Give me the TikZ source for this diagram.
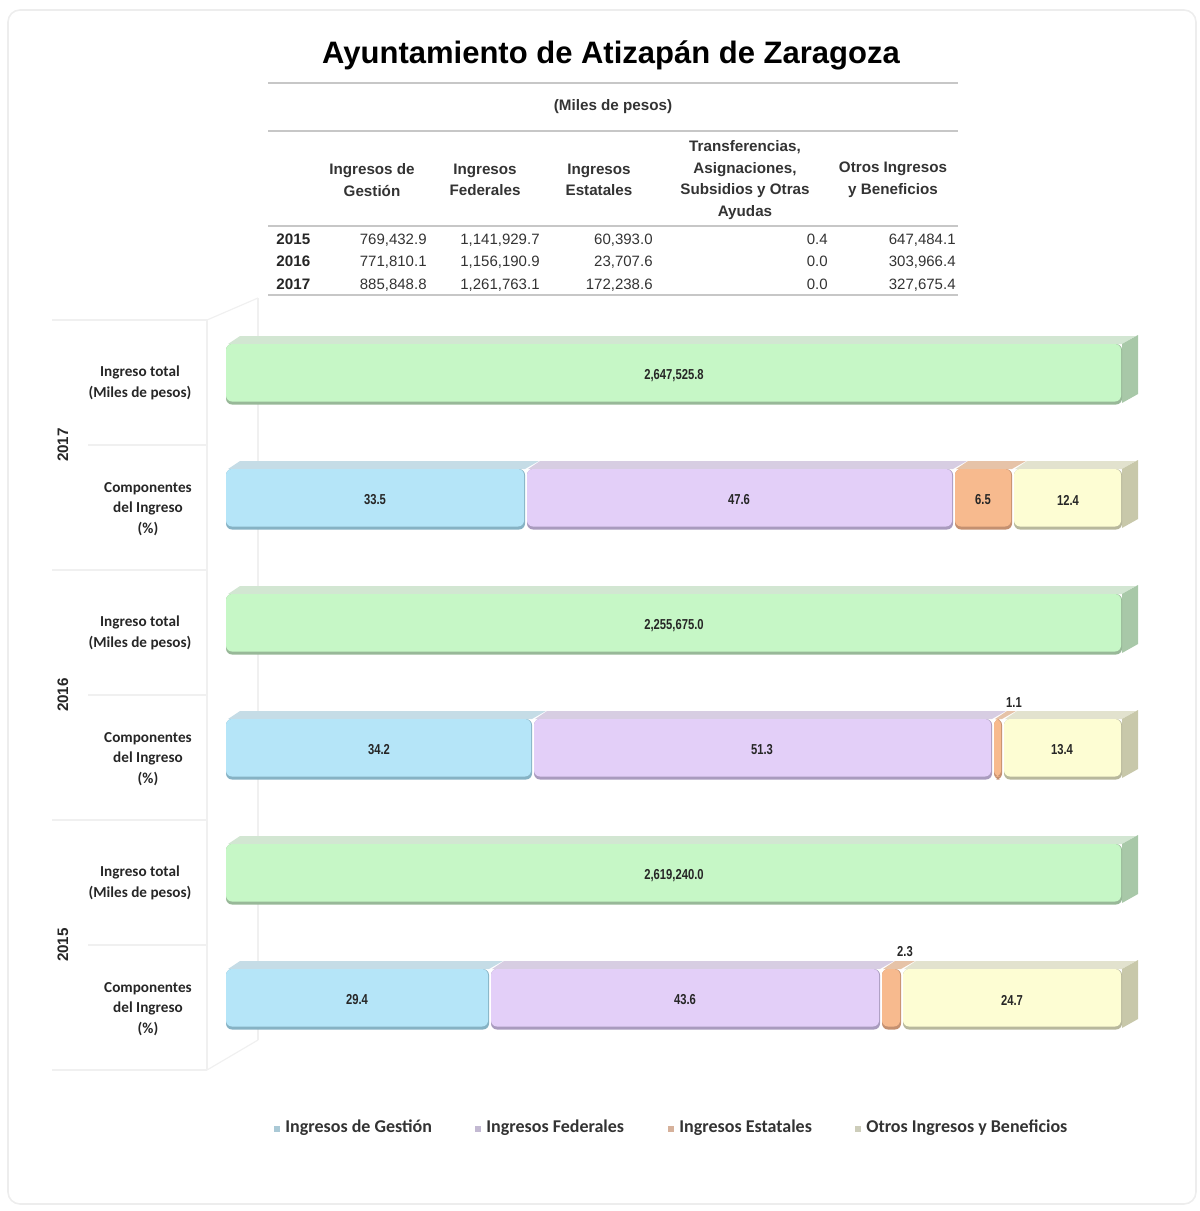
\documentclass[tikz,border=0pt]{standalone}
\usepackage{fontspec}
\setmainfont{Liberation Sans}
\newfontfamily\calf{Carlito}
\newfontfamily\narrowf[FakeStretch=0.78]{Liberation Sans}
\begin{document}
\begin{tikzpicture}[x=0.5pt,y=-0.5pt,
  tabtxt/.style={font=\fontsize{7.5}{10.5}\selectfont, text=black!80, inner sep=0pt},
  hdr/.style={font=\fontsize{7.6}{10.8}\selectfont, text=black!80, inner sep=0pt, align=center},
  yr/.style={font=\fontsize{7.6}{10}\selectfont\bfseries, text=black!85, inner sep=0pt},
  cat/.style={font=\calf\fontsize{7.6}{10.3}\selectfont\bfseries, text=black!85, align=center, inner sep=0pt},
  barlbl/.style={font=\narrowf\fontsize{7.2}{8}\selectfont\bfseries, text=black!85, inner sep=0pt},
  leg/.style={font=\calf\fontsize{9}{10}\selectfont\bfseries, text=black!80, anchor=west, inner sep=0pt},
  rule/.style={draw=black!22, line width=1.2pt},
  grid/.style={draw=black!6, line width=0.6pt}]
\useasboundingbox (0,0) rectangle (1200,1211);
\definecolor{gF}{HTML}{C6F7C6}\definecolor{gT}{HTML}{D2E6D2}\definecolor{gS}{HTML}{A8C8A8}\definecolor{gE}{HTML}{98B898}
\definecolor{bF}{HTML}{B5E5F8}\definecolor{bT}{HTML}{C5DCE6}\definecolor{bE}{HTML}{86B2C4}
\definecolor{pF}{HTML}{E3CFF8}\definecolor{pT}{HTML}{D7CDE2}\definecolor{pE}{HTML}{A99BBE}
\definecolor{oF}{HTML}{F7BA8E}\definecolor{oT}{HTML}{E6C3A8}\definecolor{oE}{HTML}{C49070}
\definecolor{yF}{HTML}{FDFDD3}\definecolor{yT}{HTML}{E2E2CE}\definecolor{yS}{HTML}{C8C8AA}\definecolor{yE}{HTML}{B8B89C}
% frame
\draw[draw=black!7, line width=0.8pt, rounded corners=6] (8,10) rectangle (1196,1204);
% title
\node[font=\fontsize{15.5}{18}\selectfont\bfseries, inner sep=0pt] (title) at (611,55) {Ayuntamiento de Atizapán de Zaragoza};
\draw[rule] (268,83) -- (958,83);
\node[hdr, font=\fontsize{7.6}{10}\selectfont\bfseries] (miles) at (613,107) {(Miles de pesos)};
\draw[rule] (268,131) -- (958,131);
\node[hdr] (h1) at (372,180) {\bfseries Ingresos de\\\bfseries Gestión};
\node[hdr] (h2) at (485,180) {\bfseries Ingresos\\\bfseries Federales};
\node[hdr] (h3) at (599,180) {\bfseries Ingresos\\\bfseries Estatales};
\node[hdr] (h4) at (745,180) {\bfseries Transferencias,\\\bfseries Asignaciones,\\\bfseries Subsidios y Otras\\\bfseries Ayudas};
\node[hdr] (h5) at (893,180) {\bfseries Otros Ingresos\\\bfseries y Beneficios};
\draw[rule] (268,226) -- (958,226);
\foreach \y/\yr/\a/\b/\c/\d/\e in {244/2015/769{,}432.9/1{,}141{,}929.7/60{,}393.0/0.4/647{,}484.1,
  266/2016/771{,}810.1/1{,}156{,}190.9/23{,}707.6/0.0/303{,}966.4,
  289/2017/885{,}848.8/1{,}261{,}763.1/172{,}238.6/0.0/327{,}675.4}{
  \node[yr, anchor=base west] (y\yr) at (276,\y) {\yr};
  \node[tabtxt, anchor=base east] (a\yr) at (427,\y) {\a};
  \node[tabtxt, anchor=base east] (b\yr) at (540,\y) {\b};
  \node[tabtxt, anchor=base east] (c\yr) at (653,\y) {\c};
  \node[tabtxt, anchor=base east] (d\yr) at (828,\y) {\d};
  \node[tabtxt, anchor=base east] (e\yr) at (956,\y) {\e};
}
\draw[rule] (268,295) -- (958,295);
% left panel grid
\draw[grid] (207,320) -- (207,1070);
\draw[grid] (258,298) -- (258,1040);
\draw[grid] (207,320) -- (258,298);
\draw[grid] (207,1070) -- (258,1040);
\foreach \y in {320,570,820,1070} \draw[grid] (52,\y) -- (207,\y);
\foreach \y in {445,695,945} \draw[grid] (88,\y) -- (207,\y);
% year labels
\node[yr, rotate=90] (g2017) at (63,445) {2017};
\node[yr, rotate=90] (g2016) at (63,695) {2016};
\node[yr, rotate=90] (g2015) at (63,945) {2015};
% category labels
\foreach \t/\n in {383/17,633/16,883/15}{
  \node[cat] (it\n) at (140,\t) {Ingreso total\\(Miles de pesos)};}
\foreach \t/\n in {509/17,759/16,1009/15}{
  \node[cat] (cp\n) at (148,\t) {Componentes\\del Ingreso\\(\%)};}
% bar macros: x1 x2 top bottom colorprefix
\newcommand\segtop[5]{%
  \fill[#5T] (#1+2,#3) -- (#1+14,#3-8) -- (#2+14,#3-8) -- (#2,#3) -- cycle;}
\newcommand\segfront[5]{%
  \fill[#5E, rounded corners=3] (#1,#3) rectangle (#2,#4+1.5);
  \fill[#5F, rounded corners=3] (#1,#3) rectangle (#2-1,#4-1.5);}
\newcommand\segside[5]{%
  \fill[#5S] (#2,#3) -- (#2+16,#3-9) -- (#2+16,#4-9) -- (#2,#4) -- cycle;}
% totals
\foreach \t/\v/\n in {344/{2,647,525.8}/17,594/{2,255,675.0}/16,844/{2,619,240.0}/15}{
  \segtop{226}{1122}{\t}{\t+59}{g}
  \segside{226}{1122}{\t}{\t+59}{g}
  \segfront{226}{1122}{\t}{\t+59}{g}
  \node[barlbl] (tot\n) at (674,\t+32) {\v};
}
% components
\newcommand\comprow[4]{% top, end blue, end purple, end orange
  \segtop{226}{#2}{#1}{#1+59}{b}\segtop{#2+1}{#3}{#1}{#1+59}{p}\segtop{#3+1}{#4}{#1}{#1+59}{o}\segtop{#4+1}{1122}{#1}{#1+59}{y}
  \segside{226}{1122}{#1}{#1+59}{y}
  \segfront{226}{#2}{#1}{#1+59}{b}\segfront{#2+2}{#3}{#1}{#1+59}{p}\segfront{#3+2}{#4}{#1}{#1+59}{o}\segfront{#4+2}{1122}{#1}{#1+59}{y}
}
\comprow{469}{525}{953}{1012}
\node[barlbl] (c17b) at (375,500) {33.5};
\node[barlbl] (c17p) at (739,500) {47.6};
\node[barlbl] (c17o) at (983,500) {6.5};
\node[barlbl] (c17y) at (1068,500) {12.4};
\comprow{719}{532}{992}{1002}
\node[barlbl] (c16b) at (379,750) {34.2};
\node[barlbl] (c16p) at (762,750) {51.3};
\node[barlbl] (c16o) at (1014,703) {1.1};
\node[barlbl] (c16y) at (1062,750) {13.4};
\comprow{969}{489}{880}{901}
\node[barlbl] (c15b) at (357,1000) {29.4};
\node[barlbl] (c15p) at (685,1000) {43.6};
\node[barlbl] (c15o) at (905,952) {2.3};
\node[barlbl] (c15y) at (1012,1000) {24.7};
% legend
\foreach \x/\c/\t/\n in {279/bE/Ingresos de Gestión/lg1,480/pE/Ingresos Federales/lg2,673/oE/Ingresos Estatales/lg3,860/yE/Otros Ingresos y Beneficios/lg4}{
  \fill[\c!70] (\x-5,1126) rectangle (\x+1,1132);
  \node[leg] (\n) at (\x+6,1128) {\t};
}
\end{tikzpicture}
\end{document}
